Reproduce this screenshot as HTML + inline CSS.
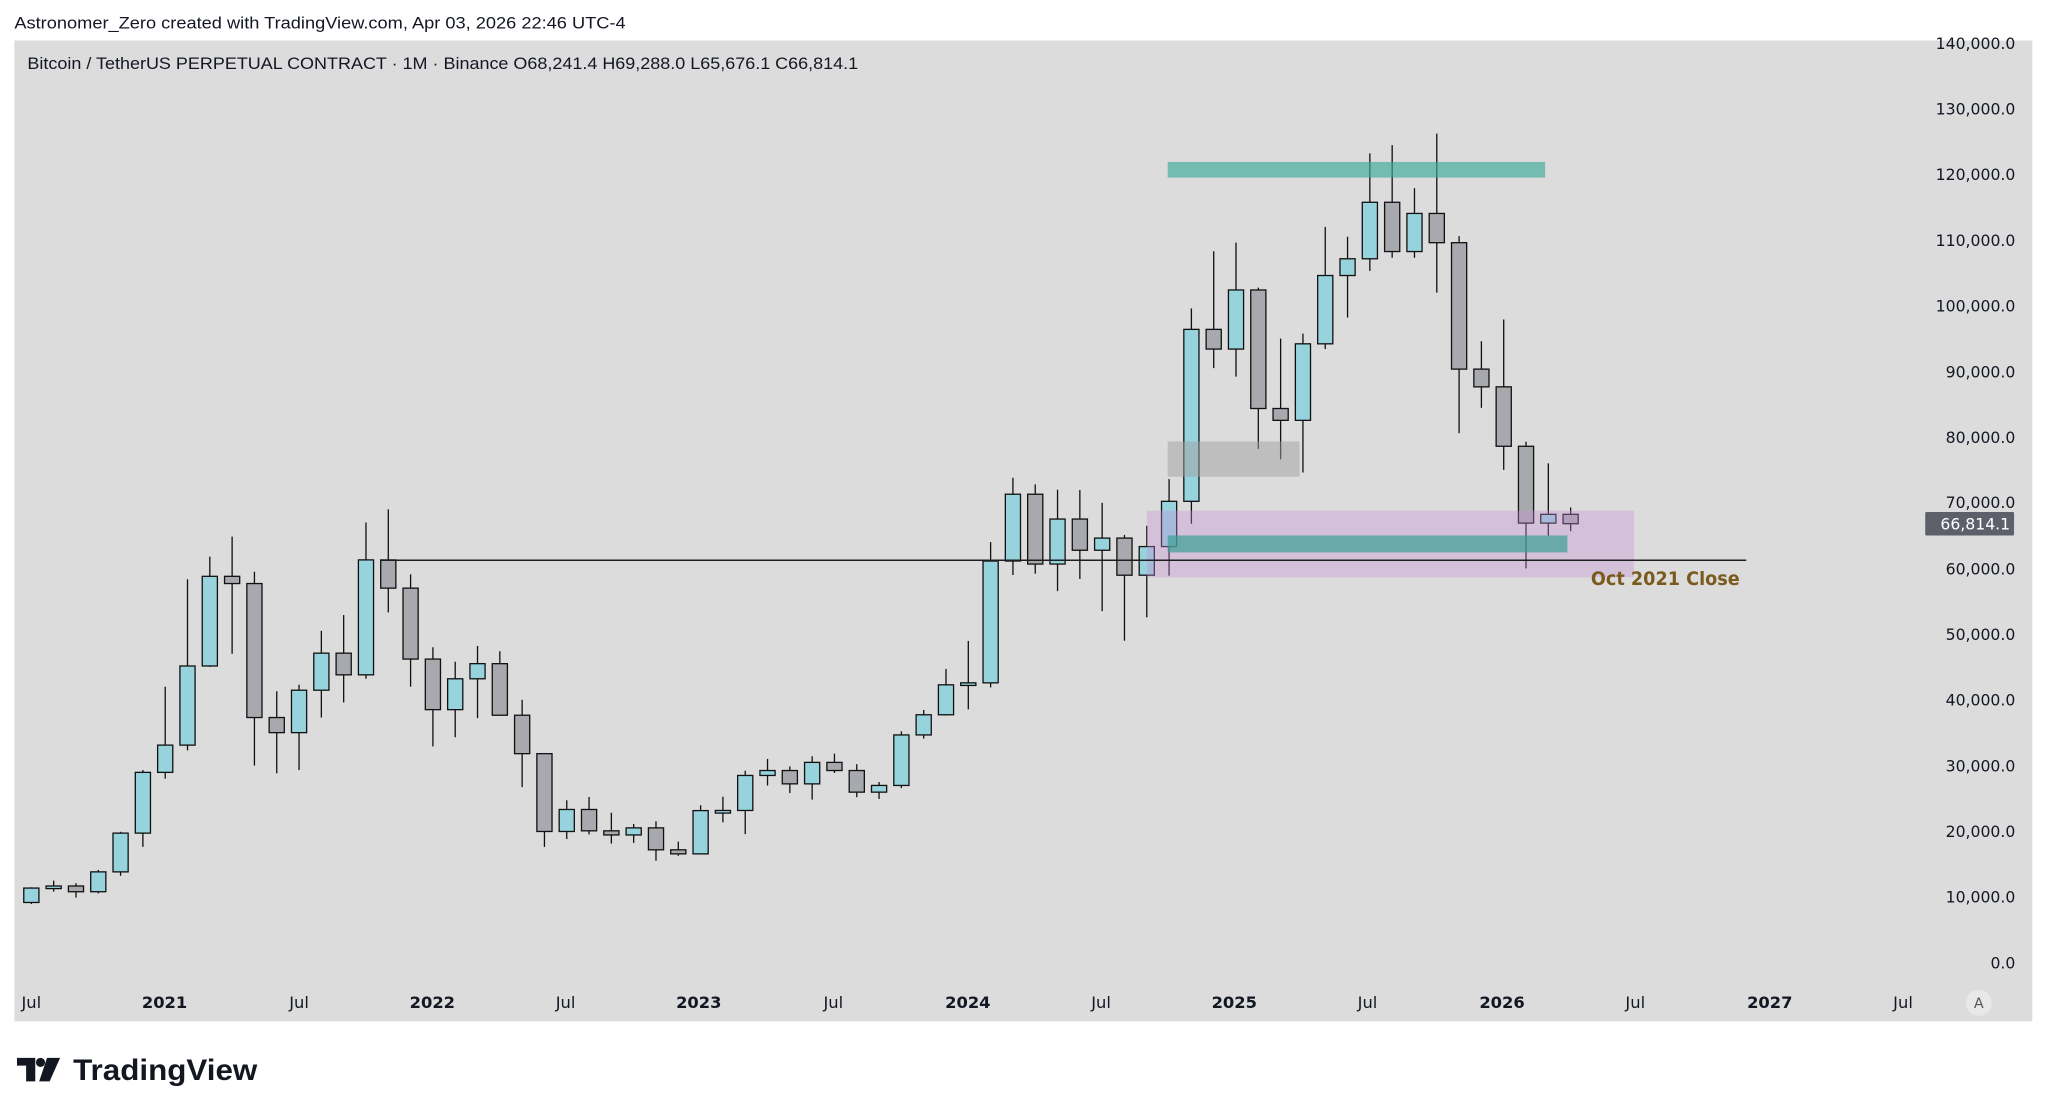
<!DOCTYPE html>
<html><head><meta charset="utf-8"><style>
html,body{margin:0;padding:0;background:#fff;width:2048px;height:1114px;overflow:hidden}
svg{display:block}
text{font-family:"DejaVu Sans","Liberation Sans",sans-serif}
</style></head><body>
<svg id="s" width="2048" height="1114" viewBox="0 0 1568 853" preserveAspectRatio="none" xmlns="http://www.w3.org/2000/svg">
<rect x="0" y="0" width="1568" height="853" fill="#fff"/>
<text x="11" y="22" font-size="13" fill="#131722" style="font-family:'Liberation Sans',sans-serif" textLength="468" lengthAdjust="spacingAndGlyphs">Astronomer_Zero created with TradingView.com, Apr 03, 2026 22:46 UTC-4</text>
<rect x="11" y="31" width="1545" height="751" fill="#dcdcdc"/>
<g id="c"></g>
<g id="o">
<rect x="878" y="391" width="373" height="51" fill="rgb(200,140,215)" fill-opacity="0.35"/>
<rect x="894" y="410" width="306" height="13" fill="rgb(60,160,150)" fill-opacity="0.7"/>
<rect x="894" y="124" width="289" height="12" fill="rgb(60,170,150)" fill-opacity="0.65"/>
<rect x="894" y="338" width="101" height="27" fill="#a0a0a0" fill-opacity="0.5"/>
<line x1="292" y1="429" x2="1337" y2="429" stroke="#1e1e1e" stroke-width="1.2"/>
<text x="1218" y="448" font-size="14" font-weight="bold" fill="#7a5a1e" textLength="114" lengthAdjust="spacingAndGlyphs">Oct 2021 Close</text>
</g>
<text x="21" y="53" font-size="13" fill="#131722" style="font-family:'Liberation Sans',sans-serif" textLength="636" lengthAdjust="spacingAndGlyphs">Bitcoin / TetherUS PERPETUAL CONTRACT · 1M · Binance  O68,241.4  H69,288.0  L65,676.1  C66,814.1</text>
<rect x="1459" y="0" width="100" height="31" fill="#fff"/>
<g id="y" font-size="12" fill="#131722" text-anchor="end"></g>
<rect x="1474" y="392" width="68" height="18" rx="1" fill="#5d606b"/>
<text x="1539" y="405.5" font-size="12" fill="#fff" text-anchor="end">66,814.1</text>
<g font-size="12.5" fill="#131722" text-anchor="middle">
<text x="24" y="772">Jul</text><text x="126" y="772" font-weight="bold">2021</text>
<text x="229" y="772">Jul</text><text x="331" y="772" font-weight="bold">2022</text>
<text x="433" y="772">Jul</text><text x="535" y="772" font-weight="bold">2023</text>
<text x="638" y="772">Jul</text><text x="741" y="772" font-weight="bold">2024</text>
<text x="843" y="772">Jul</text><text x="945" y="772" font-weight="bold">2025</text>
<text x="1047" y="772">Jul</text><text x="1150" y="772" font-weight="bold">2026</text>
<text x="1252" y="772">Jul</text><text x="1355" y="772" font-weight="bold">2027</text>
<text x="1457" y="772">Jul</text>
</g>
<circle cx="1515" cy="768" r="10" fill="#e8e8e8"/>
<text x="1515" y="772" font-size="11" fill="#555" text-anchor="middle">A</text>
<path d="M13 810 H27 V828 H20 V816 H13 Z" fill="#131722"/>
<circle cx="31" cy="813.5" r="3.5" fill="#131722"/>
<path d="M36 810 H46 L38 828 H30 Z" fill="#131722"/>
<text x="56" y="827" font-size="23" font-weight="bold" fill="#131722" style="font-family:'Liberation Sans',sans-serif" textLength="141" lengthAdjust="spacingAndGlyphs">TradingView</text>
</svg>
<script>
var d=[[9140,11444,8900,11335],[11335,12470,10800,11650],[11650,12080,9880,10777],[10777,14100,10520,13800],[13800,19900,13200,19700],[19700,29300,17600,28950],[28950,42000,28000,33100],[33100,58350,32300,45150],[45150,61800,45000,58800],[58800,64850,47000,57700],[57700,59500,30000,37300],[37300,41300,28800,35000],[35000,42300,29300,41460],[41460,50500,37300,47100],[47100,52900,39600,43800],[43800,67000,43200,61300],[61300,69000,53300,57000],[57000,59100,42000,46200],[46200,48000,32900,38500],[38500,45800,34300,43200],[43200,48200,37200,45500],[45500,47400,37600,37650],[37650,40000,26700,31800],[31800,31900,17600,19950],[19950,24700,18800,23300],[23300,25200,19500,20050],[20050,22800,18100,19420],[19420,21100,18200,20500],[20500,21500,15500,17160],[17160,18400,16250,16540],[16540,23950,16500,23130],[23130,25250,21350,23150],[23150,29200,19550,28480],[28480,31000,26950,29230],[29230,29850,25800,27200],[27200,31400,24800,30470],[30470,31800,28860,29230],[29230,30200,25170,25940],[25940,27480,24900,26960],[26960,35200,26550,34650],[34650,38450,34100,37720],[37720,44700,37600,42280],[42280,48970,38550,42580],[42580,64000,41900,61130],[61130,73800,59000,71300],[71300,72800,59200,60670],[60670,71980,56550,67520],[67520,71950,58400,62770],[62770,70000,53500,64620],[64620,65100,49000,58970],[58970,66500,52550,63330],[63330,73600,58900,70220],[70220,99600,66800,96400],[96400,108300,90500,93400],[93400,109600,89200,102400],[102400,102750,78200,84350],[84350,95000,76600,82550],[82550,95750,74600,94200],[94200,112000,93400,104600],[104600,110500,98200,107150],[107150,123200,105300,115750],[115750,124450,107300,108250],[108250,117900,107300,114050],[114050,126200,102000,109600],[109600,110600,80600,90350],[90350,94600,84450,87650],[87650,97900,75000,78600],[78600,79300,60000,66900],[66900,76000,65000,68241],[68241,69288,65676,66814]];
function Y(p){return 737-p*0.005029;}
var g=document.getElementById('c'),h='';
d.forEach(function(c,i){var x=24+i*17.08,o=c[0],hi=c[1],lo=c[2],cl=c[3];var up=cl>=o;
var t=Y(Math.max(o,cl)),b=Y(Math.min(o,cl));if(b-t<2){b=t+2;}
h+='<line x1="'+x+'" x2="'+x+'" y1="'+Y(hi)+'" y2="'+Y(lo)+'" stroke="#111" stroke-width="1"/>';
h+='<rect x="'+(x-5.8)+'" y="'+t+'" width="11.6" height="'+(b-t)+'" fill="'+(up?'#97d3dc':'#a8a9ae')+'" stroke="#111" stroke-width="1"/>';});
g.innerHTML=h;
var yg=document.getElementById('y'),yh='';
for(var k=0;k<=14;k++){if(k==7)continue;var v=k*10000;var s=k==0?'0.0':(v.toLocaleString('en-US')+'.0');yh+='<text x="1543" y="'+(Y(v)+4.5)+'">'+s+'</text>';}
yh+='<text x="1543" y="389">70,000.0</text>';
yg.innerHTML=yh;
</script>
</body></html>
